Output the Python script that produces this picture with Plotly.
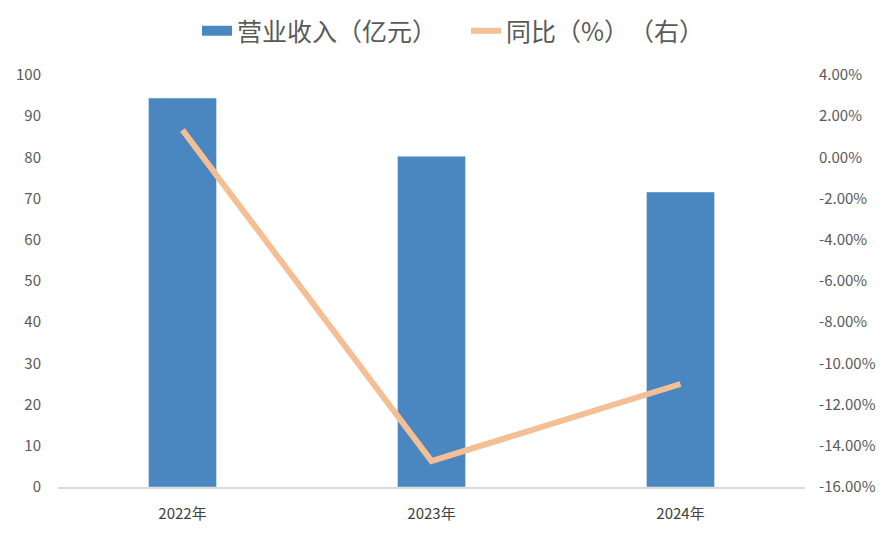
import plotly.graph_objects as go

years = ["2022年", "2023年", "2024年"]
revenue = [94.4, 80.3, 71.6]
yoy = [1.33, -14.74, -11.0]

left_ticks = list(range(0, 101, 10))
right_ticks = list(range(-16, 5, 2))
right_labels = [f"{v:.2f}%" for v in right_ticks]

bar_color = "#4a87c0"
line_color = "#f5bf95"
font = "Noto Sans CJK SC"

fig = go.Figure()
fig.add_trace(go.Bar(x=years, y=revenue, name="营业收入（亿元）", marker_color=bar_color,
                     width=0.273, yaxis="y", showlegend=False))
# legend entry drawn as a wide block, like the reference
fig.add_trace(go.Scatter(x=[None], y=[None], name="营业收入（亿元）", mode="lines",
                         line=dict(color=bar_color, width=13), yaxis="y"))
fig.add_trace(go.Scatter(x=years, y=yoy, name="同比（%）\u3000（右）", mode="lines",
                         line=dict(color=line_color, width=6), yaxis="y2"))

fig.update_layout(
    width=894, height=536,
    margin=dict(l=50, r=97, t=67, b=57),
    plot_bgcolor="white", paper_bgcolor="white",
    font=dict(family=font, color="#595959", size=14),
    showlegend=True,
    legend=dict(orientation="h", xref="container", x=(201 - 12) / 894, xanchor="left",
                y=1.0, yanchor="top", yref="container",
                font=dict(size=25, color="#595959"),
                entrywidth=224, tracegroupgap=0),
    bargap=0.727,
    xaxis=dict(showgrid=False, showline=True, linecolor="#d9d9d9", linewidth=2,
               ticks="", tickfont=dict(size=15, color="#404040"), ticklabelstandoff=12,
               automargin=False),
    yaxis=dict(range=[0, 100], tickvals=left_ticks, showgrid=False, zeroline=False,
               ticks="", tickfont=dict(size=15, color="#595959"), ticklabelstandoff=16,
               automargin=False),
    yaxis2=dict(range=[-16, 4], tickvals=right_ticks, ticktext=right_labels, overlaying="y",
                side="right", showgrid=False, zeroline=False, ticks="",
                tickfont=dict(size=15, color="#595959"), ticklabelstandoff=13,
                automargin=False),
)
fig.write_html("out.html")
